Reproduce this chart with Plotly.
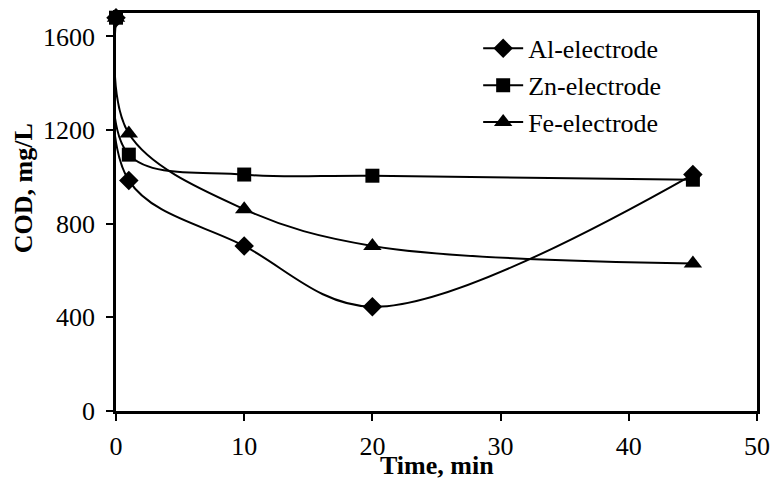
import plotly.graph_objects as go

time_min = [0, 1, 10, 20, 45]
al_cod = [1680, 985, 705, 445, 1010]
zn_cod = [1680, 1095, 1010, 1005, 988]
fe_cod = [1680, 1185, 862, 705, 630]

series = [
    ("Al-electrode", al_cod, "diamond", 15, 1),
    ("Fe-electrode", fe_cod, "triangle-up", 16, 3),
    ("Zn-electrode", zn_cod, "square", 14, 2),
]

FONT = "Liberation Serif"
FS = 26

fig = go.Figure()
for name, ys, sym, sz, rank in series:
    fig.add_trace(go.Scatter(
        x=time_min, y=ys, name=name, mode="lines+markers",
        line=dict(color="black", width=2, shape="spline", smoothing=1.0),
        marker=dict(symbol=sym, size=sz, color="black"),
        legendrank=rank, legendgroup=name, cliponaxis=False,
    ))

fig.update_layout(
    width=773, height=481,
    margin=dict(l=116, r=16, t=13, b=69.5),
    paper_bgcolor="white", plot_bgcolor="white",
    font=dict(family=FONT, size=FS, color="black"),
    showlegend=True,
    legend=dict(x=0.565, y=0.97, xanchor="left", yanchor="top",
                bgcolor="rgba(0,0,0,0)", font=dict(size=FS, family=FONT, color="black"),
                tracegroupgap=0, itemwidth=40),
    xaxis=dict(range=[0, 50], tickvals=[0, 10, 20, 30, 40, 50],
               showline=True, linecolor="black", linewidth=2.5, mirror=True,
               ticks="outside", ticklen=7, tickwidth=2, tickcolor="black",
               ticklabelstandoff=3, automargin=False,
               showgrid=False, zeroline=False,
               tickfont=dict(size=FS, family=FONT, color="black")),
    yaxis=dict(range=[0, 1700], tickvals=[0, 400, 800, 1200, 1600],
               showline=True, linecolor="black", linewidth=2.5, mirror=True,
               ticks="outside", ticklen=7, tickwidth=2, tickcolor="black",
               ticklabelstandoff=6, automargin=False,
               showgrid=False, zeroline=False,
               tickfont=dict(size=FS, family=FONT, color="black")),
    annotations=[
        dict(text="<b>Time, min</b>", xref="paper", yref="paper",
             x=0.5, y=-0.138, xanchor="center", yanchor="middle",
             showarrow=False, font=dict(size=FS, family=FONT, color="black")),
        dict(text="<b>COD, mg/L</b>", xref="paper", yref="paper",
             x=-0.145, y=0.56, xanchor="center", yanchor="middle", textangle=-90,
             showarrow=False, font=dict(size=FS, family=FONT, color="black")),
    ],
)

fig.write_html("out.html")
